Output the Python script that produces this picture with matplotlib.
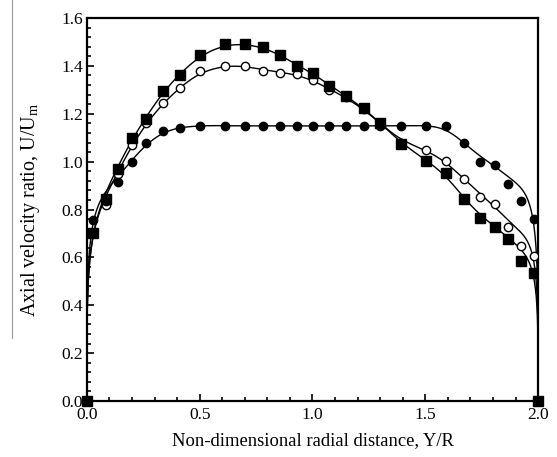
import numpy as np
import matplotlib
matplotlib.use("Agg")
import matplotlib.pyplot as plt
from matplotlib.ticker import MultipleLocator, FormatStrFormatter
from matplotlib.lines import Line2D

# radial positions of the measurement points (Y/R)
pos = [0.028, 0.085, 0.138, 0.199, 0.263, 0.337, 0.411, 0.503, 0.614, 0.703,
       0.78, 0.857, 0.93, 1.004, 1.074, 1.148, 1.227, 1.30, 1.394, 1.504,
       1.593, 1.67, 1.741, 1.809, 1.868, 1.925, 1.98]

sq_vals = [0.70, 0.845, 0.97, 1.097, 1.18, 1.297, 1.363, 1.447, 1.49, 1.49,
           1.48, 1.447, 1.40, 1.37, 1.318, 1.274, 1.225, 1.162, 1.073, 1.003,
           0.952, 0.842, 0.763, 0.725, 0.676, 0.585, 0.533]

oc_vals = [0.70, 0.82, 0.95, 1.07, 1.16, 1.244, 1.307, 1.377, 1.40, 1.40,
           1.38, 1.372, 1.365, 1.342, 1.30, 1.27, 1.22, 1.16, 1.08, 1.047,
           1.003, 0.926, 0.854, 0.824, 0.725, 0.648, 0.606]

fc_vals = [0.757, 0.835, 0.917, 1.0, 1.078, 1.127, 1.141, 1.148, 1.148, 1.148,
           1.148, 1.148, 1.148, 1.148, 1.148, 1.148, 1.148, 1.148, 1.148, 1.148,
           1.148, 1.08, 1.0, 0.987, 0.907, 0.837, 0.76]

wall_x = [0.0, 2.0]
wall_u = [0.0, 0.0]

plt.rcParams['font.family'] = ['Liberation Serif', 'DejaVu Serif']
plt.rcParams['mathtext.fontset'] = 'custom'
plt.rcParams['mathtext.rm'] = 'Liberation Serif'


def smooth_profile(x, u, expo=0.22, h=0.07):
    # local linear smoothing of u/g, g being a wall factor that goes to 0 at both walls
    x = np.asarray(x)
    u = np.asarray(u)
    g = (x * (2 - x)) ** expo
    v = u / g
    xs = np.linspace(0, 2, 1200)
    out = np.empty_like(xs)
    for i, x0 in enumerate(xs):
        w = np.exp(-0.5 * ((x - x0) / h) ** 2)
        A = np.vstack([np.ones_like(x), x - x0]).T * np.sqrt(w)[:, None]
        coef = np.linalg.lstsq(A, v * np.sqrt(w), rcond=None)[0]
        out[i] = coef[0]
    return xs, out * (xs * (2 - xs)) ** expo


fig = plt.figure(figsize=(5.57, 4.57), dpi=100)
ax = fig.add_axes([0.156, 0.1225, 0.81, 0.838])

for vals in (sq_vals, oc_vals, fc_vals):
    xs, us = smooth_profile(pos, vals)
    ax.plot(xs, us, color='black', lw=1.0, zorder=2)

ax.plot(pos, oc_vals, 'o', ms=6, mfc='white', mec='black', mew=1.0, zorder=3)
ax.plot(pos, sq_vals, 's', ms=6.5, color='black', zorder=4)
ax.plot(pos, fc_vals, 'o', ms=6, color='black', zorder=5)
ax.plot(wall_x, wall_u, 's', ms=6.5, color='black', zorder=5, clip_on=False)

ax.set_xlim(0, 2.0)
ax.set_ylim(0, 1.6)
ax.xaxis.set_major_locator(MultipleLocator(0.5))
ax.xaxis.set_minor_locator(MultipleLocator(0.1))
ax.yaxis.set_major_locator(MultipleLocator(0.2))
ax.yaxis.set_minor_locator(MultipleLocator(0.04))
ax.xaxis.set_major_formatter(FormatStrFormatter('%.1f'))
ax.yaxis.set_major_formatter(FormatStrFormatter('%.1f'))
ax.tick_params(which='both', direction='in', top=False, right=False,
               labelsize=12.5, width=1.2)
ax.tick_params(axis='x', which='major', length=5, pad=4)
ax.tick_params(axis='y', which='major', length=5, pad=3)
ax.tick_params(which='minor', length=3)
for s in ax.spines.values():
    s.set_linewidth(1.6)

ax.set_xlabel('Non-dimensional radial distance, Y/R', fontsize=13.4, labelpad=7)
ax.set_ylabel(r'Axial velocity ratio, U/U$_\mathregular{m}$', fontsize=14.5,
              labelpad=14)

# faint scan edge at the top left
fig.add_artist(Line2D([0.022, 0.022], [1.0, 0.26], color='0.6', lw=0.8))

fig.savefig('out.png', dpi=100)
